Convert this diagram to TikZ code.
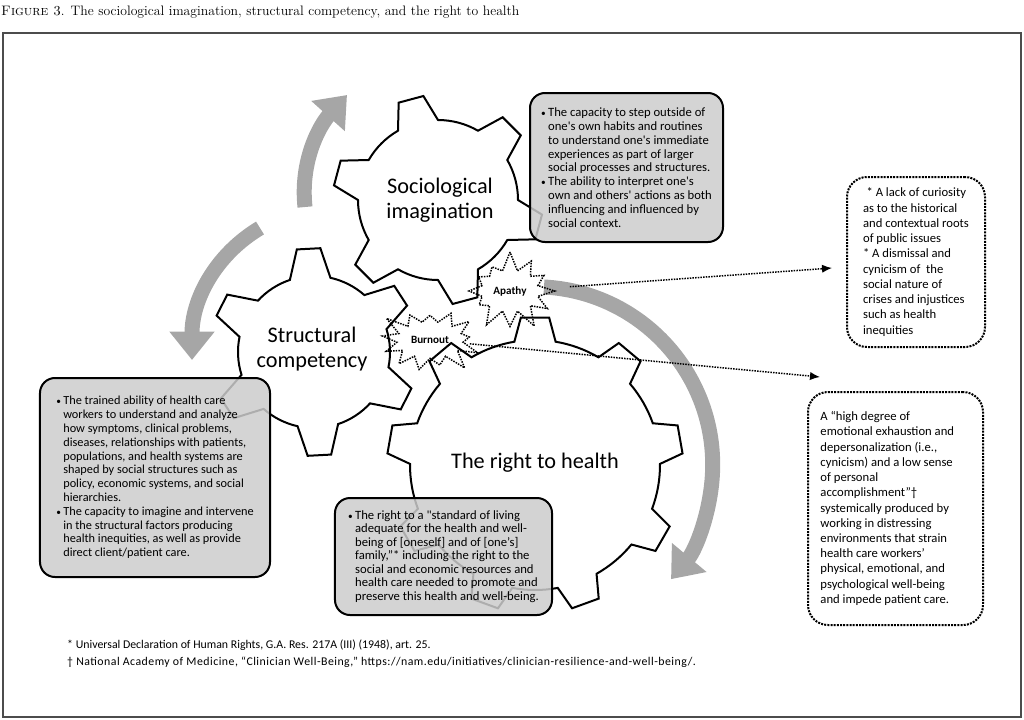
\documentclass[tikz,border=0pt]{standalone}
\usepackage{fontspec}
\newfontfamily\carl{Carlito}
\usetikzlibrary{
    arrows.meta,
    shapes.symbols,
    positioning
}
\newcommand{\bul}{\makebox[6pt][l]{\fontsize{8}{8}\selectfont\textbullet}}
\newcommand{\ind}{\hspace*{6pt}}
\newcommand{\ap}{\textquotesingle}
% gear: centre x, centre y, teeth, inner r, outer r, phase, tip half angle, base half angle
\newcommand{\gear}[8]{%
  \begin{scope}[shift={(#1,#2)}]
    \pgfmathsetmacro{\gstep}{360/#3}
    \draw[gearline] ({#6-#8}:#4)
      \foreach \k in {1,...,#3}{
        -- ({#6+(\k-1)*\gstep-#8}:#4) -- ({#6+(\k-1)*\gstep-#7}:#5)
        -- ({#6+(\k-1)*\gstep+#7}:#5) -- ({#6+(\k-1)*\gstep+#8}:#4)
        arc[start angle={#6+(\k-1)*\gstep+#8}, end angle={#6+\k*\gstep-#8}, radius=#4]
      } -- cycle;
  \end{scope}}

\begin{document}
\begin{tikzpicture}[x=0.03cm,y=-0.03cm,
  gearline/.style={draw=black,line width=0.06cm,fill=white,line join=miter},
  gearname/.style={font=\carl\fontsize{19}{21}\selectfont,align=center},
  graybox/.style={draw=black,line width=0.06cm,fill=gray!40,fill opacity=0.85,text opacity=1,
    rounded corners=0.45cm,align=left,font=\carl\fontsize{10.8}{11.8}\selectfont},
  dotbox/.style={draw=black,line width=0.06cm,densely dotted,rounded corners=0.6cm,
    align=left,font=\carl\fontsize{10.8}{13}\selectfont},
  bigarrow/.style={draw=gray!70,line width=0.45cm,-{Triangle[length=0.85cm,width=1.3cm]}},
  dotarrow/.style={black,line width=0.045cm,densely dotted,-{Latex[length=0.3cm,width=0.25cm]}},
  burst/.style={starburst,draw,densely dotted,line width=0.045cm,
    font=\carl\bfseries\fontsize{9.5}{11}\selectfont}
]
%\draw [help lines,step=50](0,0) grid (1024,719);
\useasboundingbox (0,0) rectangle (1024,719);
\draw [draw=gray!60!black,line width=0.05cm] (3,33) rectangle (1021,717);
\node [anchor=base west,inner sep=0pt] (title) at (1,15)
  {\fontsize{11.7}{13}\selectfont\textsc{Figure 3}. The sociological imagination, structural competency, and the right to health};

% circular arrows
\coordinate (arcAtail) at (305,207);
\coordinate (arcAtip) at (347,95);
\coordinate (arcBtail) at (260,228);
\coordinate (arcBtip) at (192,360);
\coordinate (arcCtail) at (544,287);
\draw [bigarrow] (arcAtail) .. controls (300,160) and (320,125) .. (arcAtip);
\draw [bigarrow] (arcBtail) .. controls (215,255) and (192,300) .. (arcBtip);
\draw [bigarrow] (arcCtail) arc[start angle=-87,end angle=40,radius=178];

% gears
\gear{535}{465}{9}{125}{148}{-90}{5.5}{9.5}
\gear{314}{352}{6}{76}{104}{-93}{6.5}{15.5}
\gear{438}{200}{6}{80}{105}{-105}{7}{15}
\node [gearname] (soc) at (440,200) {Sociological\\imagination};
\node [gearname] (struct) at (312,349) {Structural\\competency};
\node [gearname] (right) at (535,463) {The right to health};

% descriptions
\node [graybox,minimum width=5.79cm,minimum height=4.47cm] (socbox) at (626.5,167.5)
  {\bul The capacity to step outside of\\
   \ind one\ap s own habits and routines\\
   \ind to understand one\ap s immediate\\
   \ind experiences as part of larger\\
   \ind social processes and structures.\\
   \bul The ability to interpret one\ap s\\
   \ind own and others\ap\ actions as both\\
   \ind influencing and influenced by\\
   \ind social context.};
\node [graybox,minimum width=6.9cm,minimum height=5.97cm,
       font=\carl\fontsize{10.5}{11.8}\selectfont] (structbox) at (155,477.5)
  {\bul The trained ability of health care\\
   \ind workers to understand and analyze\\
   \ind how symptoms, clinical problems,\\
   \ind diseases, relationships with patients,\\
   \ind populations, and health systems are\\
   \ind shaped by social structures such as\\
   \ind policy, economic systems, and social\\
   \ind hierarchies.\\
   \bul The capacity to imagine and intervene\\
   \ind in the structural factors producing\\
   \ind health inequities, as well as provide\\
   \ind direct client/patient care.};
\node [graybox,minimum width=6.51cm,minimum height=3.51cm,
       font=\carl\fontsize{10.8}{11.5}\selectfont] (rightbox) at (443.5,556.5)
  {\bul The right to a \textquotedbl standard of living\\
   \ind adequate for the health and well-\\
   \ind being of [oneself] and of [one’s]\\
   \ind family,”* including the right to the\\
   \ind social and economic resources and\\
   \ind health care needed to promote and\\
   \ind preserve this health and well-being.};

% apathy and burnout
\node [burst,minimum width=2.75cm,minimum height=2.45cm,starburst points=12,
       starburst point height=0.6cm,random starburst=7] (apathy) at (510,291) {Apathy};
\node [burst,minimum width=3.2cm,minimum height=2.3cm,starburst points=13,
       starburst point height=0.6cm,random starburst=3] (burnout) at (430,340) {Burnout};

\node [dotbox,minimum width=4.14cm,minimum height=5.1cm] (apathybox) at (916,262)
  {\hspace*{3pt}* A lack of curiosity\\
   as to the historical\\
   and contextual roots\\
   of public issues\\
   {}* A dismissal and\\
   cynicism of\ \ the\\
   social nature of\\
   crises and injustices\\
   such as health\\
   inequities};
\node [dotbox,minimum width=5.25cm,minimum height=6.99cm] (burnoutbox) at (895.5,508.5)
  {A “high degree of\\
   emotional exhaustion and\hphantom{xxx}\\
   depersonalization (i.e.,\\
   cynicism) and a low sense\\
   of personal\\
   accomplishment”†\\
   systemically produced by\\
   working in distressing\\
   environments that strain\\
   health care workers’\\
   physical, emotional, and\\
   psychological well-being\\
   and impede patient care.};

\coordinate (burnoutend) at (820,377);
\draw [dotarrow,shorten <=1.8cm,shorten >=0.42cm] (apathy.center) -- (apathybox);
\draw [dotarrow,shorten <=1.2cm] (burnout.center) -- (burnoutend);

% notes
\node [anchor=base west,inner sep=0pt,font=\carl\fontsize{10.1}{11}\selectfont] (note1) at (67,648)
  {* Universal Declaration of Human Rights, G.A. Res. 217A (III) (1948), art. 25.};
\node [anchor=base west,inner sep=0pt,font=\carl\fontsize{10.1}{11}\selectfont] (note2) at (67,665)
  {\addfontfeature{LetterSpace=4}† National Academy of Medicine, “Clinician Well-Being,” https://nam.edu/initiatives/clinician-resilience-and-well-being/.};
\end{tikzpicture}
\end{document}
